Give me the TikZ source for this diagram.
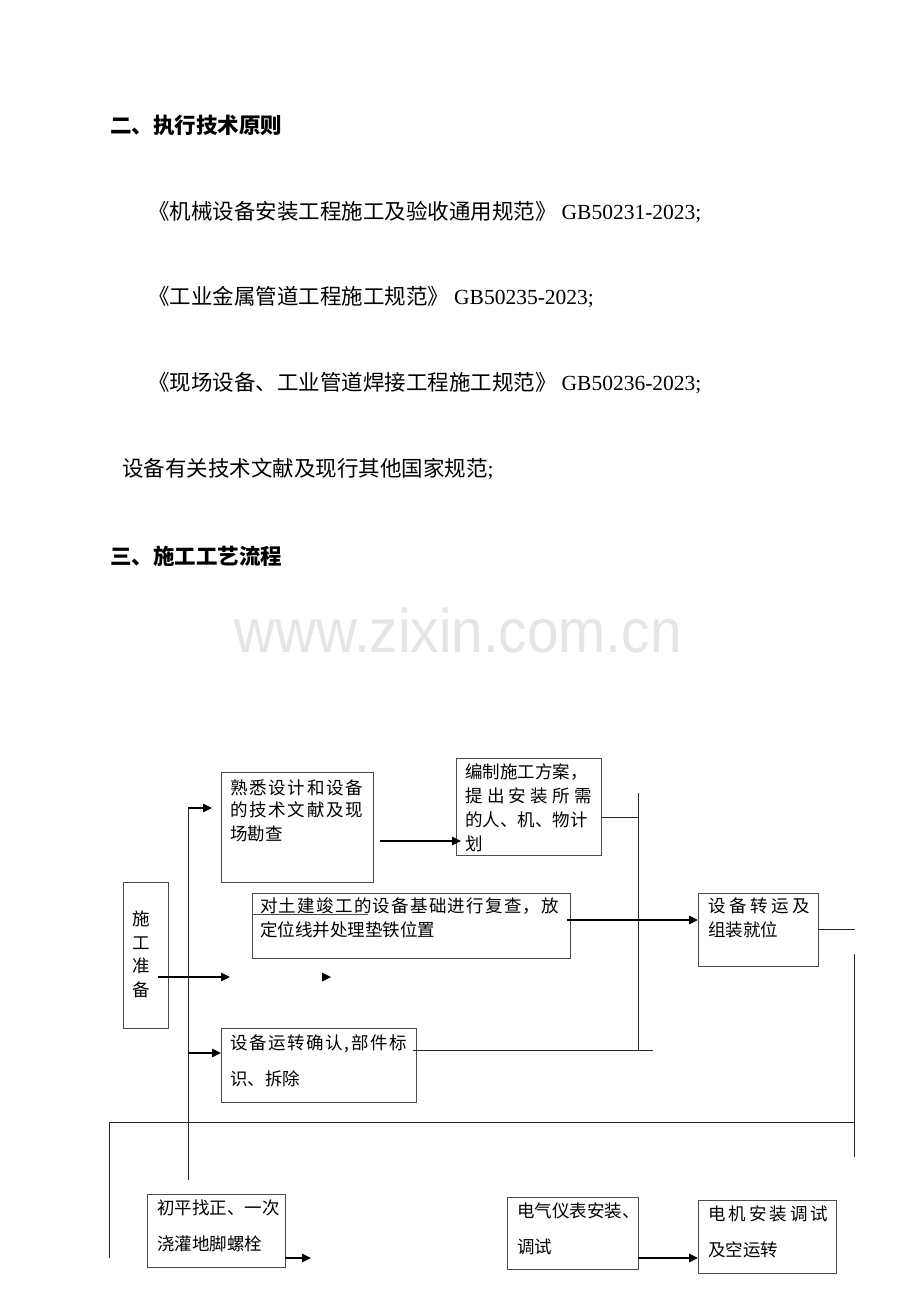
\documentclass[tikz,border=0pt]{standalone}
\usepackage{fontspec}
\setmainfont{Noto Sans CJK SC}
\newfontfamily\lat{Liberation Serif}
\newfontfamily\wmfont{Liberation Sans}
\usetikzlibrary{arrows.meta}
\def\sprA#1{\ifx\relax#1\else#1\expandafter\sprB\fi}
\def\sprB#1{\ifx\relax#1\else\hfil#1\expandafter\sprB\fi}
\newcommand\spreadtxt[2]{\makebox[#1][s]{\sprA#2\relax}}
\begin{document}
\begin{tikzpicture}[x=1pt,y=-1pt,
 box/.style={draw=black!70, line width=0.9pt, anchor=north west, inner sep=0pt, outer sep=0pt},
 bt/.style={anchor=base west, inner sep=0pt, font=\fontsize{17.5}{17.5}\selectfont},
 ct/.style={anchor=base, inner sep=0pt, font=\fontsize{17.5}{17.5}\selectfont},
 body/.style={anchor=base west, inner sep=0pt, font=\fontsize{21.5}{21.5}\selectfont},
 head/.style={anchor=base west, inner sep=0pt, font=\fontsize{21.5}{21.5}\selectfont\bfseries},
 ln/.style={draw=black!85, line width=1pt},
 boxline/.style={draw=black!70, line width=0.9pt},
 arr/.style={draw=black, line width=1.3pt, -{Triangle[length=9pt,width=8.5pt]}},
]
\useasboundingbox[fill=white] (0,0) rectangle (920,1302);

% ---- body text ----
\node[head] (h1) at (110,133) {二、执行技术原则};
\node[body] (l1) at (148,219) {《机械设备安装工程施工及验收通用规范》\hspace{5pt}{\lat GB50231-2023;}};
\node[body] (l2) at (148,304) {《工业金属管道工程施工规范》\hspace{5pt}{\lat GB50235-2023;}};
\node[body] (l3) at (148,390) {《现场设备、工业管道焊接工程施工规范》\hspace{5pt}{\lat GB50236-2023;}};
\node[body] (l4) at (122,476) {设备有关技术文献及现行其他国家规范{\lat ;}};
\node[head] (h2) at (110,564) {三、施工工艺流程};
\node[anchor=base, inner sep=0pt, text=black!10, font=\wmfont\fontsize{61.6}{61.6}\selectfont] (wm) at (458,652) {\scalebox{0.92}[1]{www.zixin.com.cn}};

% ---- boxes ----
\node[box, minimum width=152pt, minimum height=110pt] (A) at (221,772) {};
\node[box, minimum width=145pt, minimum height=97pt] (C) at (456,758) {};
\node[box, minimum width=318pt, minimum height=65pt] (B) at (252,893) {};
\node[box, minimum width=120pt, minimum height=73pt] (D) at (698,893) {};
\node[box, minimum width=45pt, minimum height=146pt] (P) at (123,882) {};
\node[box, minimum width=195pt, minimum height=74pt] (E) at (221,1028) {};
\node[box, minimum width=138pt, minimum height=73pt] (F) at (147,1194) {};
\node[box, minimum width=131pt, minimum height=72pt] (G) at (507,1197) {};
\node[box, minimum width=138pt, minimum height=73pt] (H) at (698,1200) {};

% ---- box texts ----
\node[bt] (A1) at (230,794.5) {\spreadtxt{133pt}{熟悉设计和设备}};
\node[bt] (A2) at (230,816.5) {\spreadtxt{133pt}{的技术文献及现}};
\node[bt] (A3) at (230,840.5) {场勘查};

\node[bt] (C1) at (465,778.5) {编制施工方案，};
\node[bt] (C2) at (465,802.5) {\spreadtxt{127pt}{提出安装所需}};
\node[bt] (C3) at (465,826.5) {的人、机、物计};
\node[bt] (C4) at (465,850.5) {划};

\node[bt] (B1) at (260,912.5) {\spreadtxt{299pt}{对土建竣工的设备基础进行复查，放}};
\node[bt] (B2) at (260,936.5) {定位线并处理垫铁位置};
\draw[boxline] (B.west |- 0,914) -- (368,914);

\node[bt] (D1) at (708,912.5) {\spreadtxt{102pt}{设备转运及}};
\node[bt] (D2) at (708,936.5) {组装就位};

\node[ct] (P1) at (141.5,925.5) {施};
\node[ct] (P2) at (141.5,949) {工};
\node[ct] (P3) at (141.5,972.5) {准};
\node[ct] (P4) at (141.5,996) {备};

\node[bt] (E1) at (230,1049.5) {\spreadtxt{177pt}{设备运转确认,部件标}};
\node[bt] (E2) at (230,1085.5) {识、拆除};

\node[bt] (F1) at (157,1214.5) {初平找正、一次};
\node[bt] (F2) at (157,1250.5) {浇灌地脚螺栓};

\node[bt] (G1) at (517,1217.5) {电气仪表安装、};
\node[bt] (G2) at (517,1253.5) {调试};

\node[bt] (H1) at (708,1220.5) {\spreadtxt{120pt}{电机安装调试}};
\node[bt] (H2) at (708,1256.5) {及空运转};

% ---- connector coordinates ----
\coordinate (v1t) at (188,808);
\coordinate (v1b) at (188,1180);
\coordinate (v1e) at (188,1053);
\coordinate (v2t) at (638,793);
\coordinate (v2b) at (638,1050);
\coordinate (v3t) at (854,954);
\coordinate (v3b) at (854,1157);
\coordinate (lowL) at (109,1122);
\coordinate (lowLb) at (109,1258);
\coordinate (lowR) at (854,1122);
\coordinate (tipA) at (212,808);
\coordinate (pS) at (158,977);
\coordinate (pT) at (230,977);
\coordinate (midtip) at (331,977);
\coordinate (aS) at (380,841);
\coordinate (cTip) at (461,841);
\coordinate (bS) at (567,920);
\coordinate (eS) at (413,1050);
\coordinate (eEnd) at (653,1050);
\coordinate (dEnd) at (855,929);
\coordinate (fTip) at (311,1258);

% ---- connectors ----
\draw[ln] (v1t) -- (v1b);
\draw[arr] (v1t) -- (tipA);
\draw[arr] (pS) -- (pT);
\fill[black] (midtip) -- ++(-9,-4.5) -- ++(0,9) -- cycle;
\draw[arr] (v1e) -- (E.west |- v1e);
\draw[arr] (aS) -- (cTip);
\draw[ln] (C.east |- 0,817) -- (v2t |- 0,817);
\draw[ln] (v2t) -- (v2b);
\draw[arr] (bS) -- (D.west |- bS);
\draw[ln] (D.east |- dEnd) -- (dEnd);
\draw[ln] (v3t) -- (v3b);
\draw[ln] (eS) -- (eEnd);
\draw[ln] (lowL) -- (lowR);
\draw[ln] (lowL) -- (lowLb);
\draw[arr] (F.east |- fTip) -- (fTip);
\draw[arr] (G.east |- fTip) -- (H.west |- fTip);
\end{tikzpicture}
\end{document}
